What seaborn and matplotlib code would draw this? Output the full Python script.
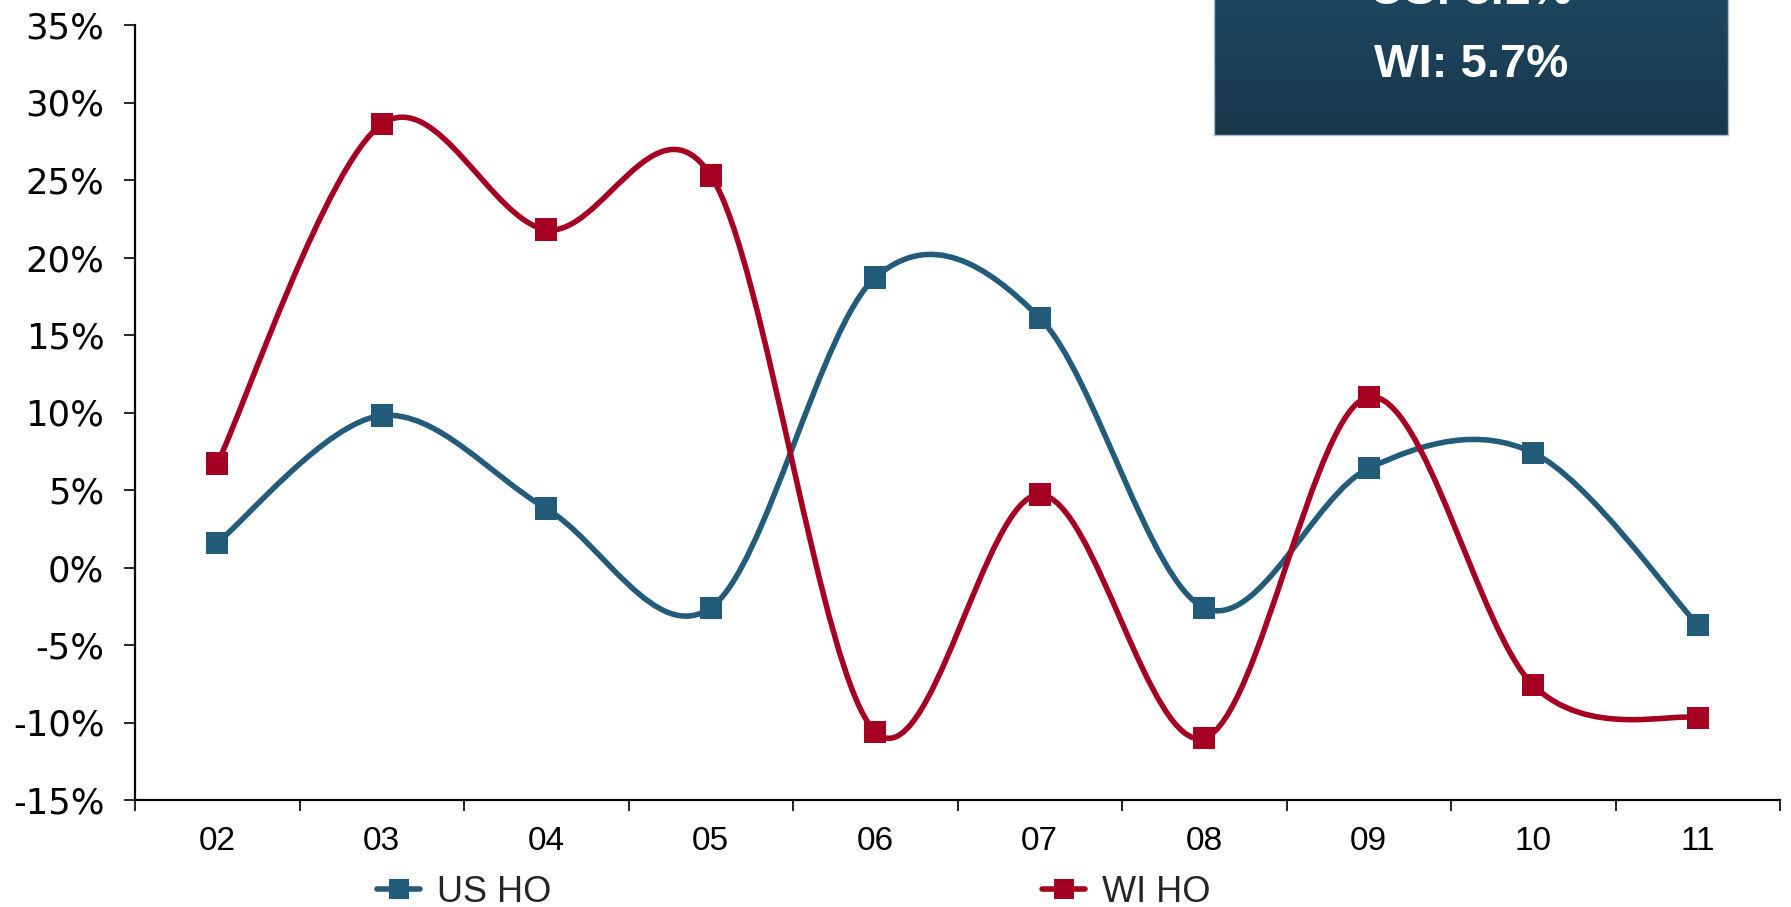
import numpy as np
import pandas as pd
import matplotlib
matplotlib.use("Agg")
import matplotlib.pyplot as plt
from matplotlib.path import Path
from matplotlib.patches import PathPatch
from matplotlib.lines import Line2D
import seaborn as sns

# Year-over-year change, by year
years = ["02", "03", "04", "05", "06", "07", "08", "09", "10", "11"]
us_ho = [1.6, 9.8, 3.8, -2.6, 18.7, 16.1, -2.6, 6.4, 7.4, -3.7]
wi_ho = [6.7, 28.6, 21.8, 25.3, -10.6, 4.7, -11.0, 11.0, -7.6, -9.7]
series_names = ["US HO", "WI HO"]
summary_lines = ["US: 3.1%", "WI: 5.7%"]
y_ticks = [-15, -10, -5, 0, 5, 10, 15, 20, 25, 30, 35]

BLUE = "#235C7B"
RED = "#A50021"
SANS = ["Liberation Sans", "DejaVu Sans"]

df = pd.DataFrame({
    "year": years * 2,
    "pos": list(range(len(years))) * 2,
    "value": us_ho + wi_ho,
    "series": [series_names[0]] * len(years) + [series_names[1]] * len(years),
})

sns.set_theme(style="white")
plt.rcParams["font.family"] = SANS
plt.rcParams["axes.unicode_minus"] = False

fig = plt.figure(figsize=(17.91, 9.07), dpi=100)
ax = fig.add_axes([135 / 1791, 1 - 800 / 907, (1780 - 135) / 1791, (800 - 25) / 907])


def smooth_path(xs, ys):
    """Cubic Bezier path through the points (cardinal spline, tension 1/6)."""
    pts = np.column_stack([xs, ys]).astype(float)
    n = len(pts)
    verts = [pts[0]]
    codes = [Path.MOVETO]
    for i in range(n - 1):
        p0 = pts[i - 1] if i > 0 else pts[i]
        p1 = pts[i]
        p2 = pts[i + 1]
        p3 = pts[i + 2] if i + 2 < n else pts[i + 1]
        verts += [p1 + (p2 - p0) / 6.0, p2 - (p3 - p1) / 6.0, p2]
        codes += [Path.CURVE4] * 3
    return Path(np.array(verts), codes)


palette = {series_names[0]: BLUE, series_names[1]: RED}
LW = 4.0
for name in series_names:
    sub = df[df["series"] == name]
    ax.add_patch(PathPatch(smooth_path(sub["pos"], sub["value"]), fill=False,
                           edgecolor=palette[name], linewidth=LW,
                           capstyle="round", joinstyle="round", zorder=2))

sns.scatterplot(data=df, x="pos", y="value", hue="series", palette=palette,
                marker="s", s=260, linewidth=0, legend=False, zorder=3, ax=ax)

ax.set_xlim(-0.5, len(years) - 0.5)
ax.set_ylim(-15, 35)
ax.set_xlabel("")
ax.set_ylabel("")

# category boundaries carry the tick marks, labels sit at centres
ax.set_xticks(np.arange(-0.5, len(years), 1.0))
ax.set_xticklabels([])
ax.set_xticks(np.arange(len(years)), minor=True)
ax.set_xticklabels(years, minor=True, fontsize=24, family=SANS)
ax.tick_params(axis="x", which="major", direction="out", length=8, width=1.2,
               color="black", bottom=True)
ax.tick_params(axis="x", which="minor", length=0, pad=19, labelcolor="black")

ax.set_yticks(y_ticks)
ax.set_yticklabels([f"{v}%" for v in y_ticks], fontsize=25.5,
                   family=["DejaVu Sans"])
ax.tick_params(axis="y", direction="out", length=8, width=1.2, color="black",
               left=True, pad=14, labelcolor="black")

for side in ["top", "right"]:
    ax.spines[side].set_visible(False)
for side in ["left", "bottom"]:
    ax.spines[side].set_color("black")
    ax.spines[side].set_linewidth(1.6)
ax.grid(False)

# one legend entry per series, each placed on its own
legend_x = [377 / 1791, 1042 / 1791]
for name, lx in zip(series_names, legend_x):
    h = Line2D([0], [0], color=palette[name], lw=LW, marker="s", markersize=14,
               markeredgewidth=0)
    fig.legend([h], [name], loc="center left", bbox_to_anchor=(lx, 1 - 892 / 907),
               frameon=False, borderpad=0, borderaxespad=0,
               handlelength=1.2, handletextpad=0.45,
               prop={"family": SANS, "size": 26})

# summary box in the upper right corner
bx0, bx1 = 1214 / 1791, 1728 / 1791
by0 = 1 - 135 / 907
box_ax = fig.add_axes([bx0, by0, bx1 - bx0, 0.25])
grad = np.linspace(0, 1, 256).reshape(-1, 1)
cmap = matplotlib.colors.LinearSegmentedColormap.from_list("boxgrad", ["#1A384D", "#1F4F6B"])
box_ax.imshow(grad, aspect="auto", cmap=cmap, origin="lower", extent=[0, 1, 0, 1])
box_ax.set_xticks([])
box_ax.set_yticks([])
for sp in box_ax.spines.values():
    sp.set_color("#A9BCCA")
    sp.set_linewidth(1.0)

fig.text((bx0 + bx1) / 2, 1 - 65 / 907, summary_lines[1], ha="center", va="center",
         color="white", fontsize=34, fontweight="bold")
fig.text((bx0 + bx1) / 2, 1 + 8 / 907, summary_lines[0], ha="center", va="center",
         color="white", fontsize=34, fontweight="bold")

fig.savefig("out.png", dpi=100)
